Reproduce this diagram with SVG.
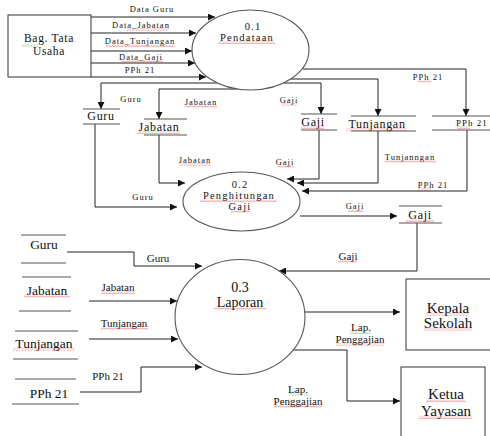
<svg xmlns="http://www.w3.org/2000/svg" width="490" height="436" viewBox="0 0 490 436" font-family="'Liberation Serif', 'DejaVu Serif', serif">
  <style>
    text { font-family: 'Liberation Serif', 'DejaVu Serif', serif; fill: #111; text-anchor: middle; }
    .flow { fill: none; stroke: #222; stroke-width: 1; marker-end: url(#arrow); }
    .store { stroke: #555; stroke-width: 1.2; }
    .shape { fill: #fff; stroke: #333; stroke-width: 1; }
    .proc { fill: #fff; stroke: #555; stroke-width: 1.1; }
    .lbl-s { font-size: 8.5px; letter-spacing: 1px; }
    .lbl-m { font-size: 11px; }
    .st-s { font-size: 12px; letter-spacing: 0.7px; }
    .st-l { font-size: 13.5px; }
    .p-s { font-size: 10.5px; letter-spacing: 1.2px; }
    .p-l { font-size: 14px; }
    .ent { font-size: 15px; }
    .sq-r { fill: url(#wavyRed); }
    .sq-g { fill: url(#wavyGreen); }
  </style>
  <defs>
    <marker id="arrow" markerUnits="userSpaceOnUse" markerWidth="8" markerHeight="7" refX="7" refY="3.5" orient="auto">
      <path d="M0,0 L7,3.5 L0,7 z" fill="#111"/>
    </marker>
    <pattern id="wavyRed" patternUnits="userSpaceOnUse" width="3" height="2.5">
      <path d="M0,2 L1.5,0.5 L3,2" fill="none" stroke="#e03030" stroke-width="0.6"/>
    </pattern>
    <pattern id="wavyGreen" patternUnits="userSpaceOnUse" width="3" height="2.5">
      <path d="M0,2 L1.5,0.5 L3,2" fill="none" stroke="#3a9a3a" stroke-width="0.6"/>
    </pattern>
  </defs>

  <!-- connectors -->
  <g id="connectors">
    <!-- Bag. Tata Usaha to 0.1 -->
    <path class="flow" d="M91,17 H215"/>
    <path class="flow" d="M91,33 H196"/>
    <path class="flow" d="M91,51 H192"/>
    <path class="flow" d="M91,63 H195"/>
    <path class="flow" d="M91,77 H206"/>
    <!-- 0.1 to stores -->
    <path class="flow" d="M217,83 H101 V109"/>
    <path class="flow" d="M237,89 H159 V119"/>
    <path class="flow" d="M284,83 H321 V114"/>
    <path class="flow" d="M291,79 H378 V116"/>
    <path class="flow" d="M303,69 H466 V116"/>
    <!-- stores to 0.2 -->
    <path class="flow" d="M95,124 V207 H177"/>
    <path class="flow" d="M159,135 V183 H185"/>
    <path class="flow" d="M319,130 V179 H287"/>
    <path class="flow" d="M378,131 V183 H297"/>
    <path class="flow" d="M467,130 V191 H302"/>
    <path class="flow" d="M300,216 H397"/>
    <!-- to 0.3 -->
    <path class="flow" d="M417,223 V271 H279"/>
    <path class="flow" d="M67,252 H134 V266 H202"/>
    <path class="flow" d="M89,301 H177"/>
    <path class="flow" d="M89,339 H178"/>
    <path class="flow" d="M80,392 H141 V367 H202"/>
    <!-- 0.3 outputs -->
    <path class="flow" d="M303,312 H400"/>
    <path class="flow" d="M293,350 H347 V401 H400"/>

    <!-- labels -->
    <text class="lbl-s" x="152" y="12">Data Guru</text>
    <text class="lbl-s" x="141" y="28">Data_Jabatan</text>
    <text class="lbl-s" x="140" y="44">Data_Tunjangan</text>
    <text class="lbl-s" x="141" y="60">Data_Gaji</text>
    <text class="lbl-s" x="140" y="73">PPh 21</text>
    <text class="lbl-s" x="131" y="102">Guru</text>
    <text class="lbl-s" x="201" y="105">Jabatan</text>
    <text class="lbl-s" x="289" y="103">Gaji</text>
    <text class="lbl-s" x="428" y="80">PPh 21</text>
    <text class="lbl-s" x="143" y="200">Guru</text>
    <text class="lbl-s" x="195" y="163">Jabatan</text>
    <text class="lbl-s" x="285" y="165">Gaji</text>
    <text class="lbl-s" x="410" y="160">Tunjanngan</text>
    <text class="lbl-s" x="433" y="188">PPh 21</text>
    <text class="lbl-s" x="355" y="209">Gaji</text>
    <text class="lbl-m" x="348" y="260">Gaji</text>
    <text class="lbl-m" x="158" y="262">Guru</text>
    <text class="lbl-m" x="118" y="291">Jabatan</text>
    <text class="lbl-m" x="124" y="327">Tunjangan</text>
    <text class="lbl-m" x="108" y="380">PPh 21</text>
    <text class="lbl-m" x="361" y="331">Lap.</text>
    <text class="lbl-m" x="360" y="343">Penggajian</text>
    <text class="lbl-m" x="298" y="393">Lap.</text>
    <text class="lbl-m" x="298" y="405">Penggajian</text>
  </g>

  <!-- external entities -->
  <g id="bag-tata-usaha">
    <rect class="shape" x="8" y="15" width="83" height="62"/>
    <text class="st-s" x="49" y="42" style="font-size:11.5px">Bag. Tata</text>
    <text class="st-s" x="49" y="55" style="font-size:11.5px">Usaha</text>
  </g>
  <g id="kepala-sekolah">
    <rect class="shape" x="406" y="279" width="90" height="71"/>
    <text class="ent" x="448" y="313">Kepala</text>
    <text class="ent" x="448" y="328">Sekolah</text>
  </g>
  <g id="ketua-yayasan">
    <rect class="shape" x="401" y="367" width="84" height="80"/>
    <text class="ent" x="446" y="399">Ketua</text>
    <text class="ent" x="446" y="416">Yayasan</text>
  </g>

  <!-- processes -->
  <g id="p01">
    <ellipse class="proc" cx="250.5" cy="50" rx="58.5" ry="40"/>
    <text class="p-s" x="253" y="30">0.1</text>
    <text class="p-s" x="247" y="41">Pendataan</text>
  </g>
  <g id="p02">
    <ellipse class="proc" cx="241.5" cy="201.5" rx="58.5" ry="29.5"/>
    <text class="p-s" x="240" y="188">0.2</text>
    <text class="p-s" x="239" y="199">Penghitungan</text>
    <text class="p-s" x="240" y="210">Gaji</text>
  </g>
  <g id="p03">
    <ellipse class="proc" cx="240" cy="317" rx="65" ry="57.5"/>
    <text class="p-l" x="240" y="292">0.3</text>
    <text class="p-l" x="240" y="307">Laporan</text>
  </g>

  <!-- data stores, upper level -->
  <g id="ds-guru-1">
    <path class="store" d="M83,109 H120 M83,124 H120"/>
    <text class="st-s" x="101" y="120">Guru</text>
  </g>
  <g id="ds-jabatan-1">
    <path class="store" d="M144,119 H187 M144,135 H187"/>
    <text class="st-s" x="159" y="131">Jabatan</text>
  </g>
  <g id="ds-gaji-1">
    <path class="store" d="M301,114 H337 M301,130 H337"/>
    <text class="st-s" x="313" y="126">Gaji</text>
  </g>
  <g id="ds-tunjangan-1">
    <path class="store" d="M351,116 H416 M351,131 H416"/>
    <text class="st-s" x="377" y="128">Tunjangan</text>
  </g>
  <g id="ds-pph21-1">
    <path class="store" d="M432,116 H490 M432,130 H490"/>
    <text class="lbl-s" x="472" y="126" style="font-size:9px">PPh 21</text>
  </g>
  <g id="ds-gaji-2">
    <path class="store" d="M399,206 H442 M399,223 H442"/>
    <text class="st-s" x="420" y="219">Gaji</text>
  </g>

  <!-- data stores, lower level -->
  <g id="ds-guru-3">
    <path class="store" d="M21,235 H66 M21,263 H66"/>
    <text class="st-l" x="44" y="249">Guru</text>
  </g>
  <g id="ds-jabatan-3">
    <path class="store" d="M22,277 H71 M19,311 H71"/>
    <text class="st-l" x="47" y="295">Jabatan</text>
  </g>
  <g id="ds-tunjangan-3">
    <path class="store" d="M15,331 H78 M13,359 H78"/>
    <text class="st-l" x="44" y="348">Tunjangan</text>
  </g>
  <g id="ds-pph21-3">
    <path class="store" d="M15,379 H76 M12,404 H79"/>
    <text class="st-l" x="49" y="398">PPh 21</text>
  </g>

  <!-- proofing underlines -->
  <g id="proofing">
    <rect class="sq-g" x="22" y="44" width="16" height="2.5"/>
    <rect class="sq-r" x="127" y="28.5" width="42" height="2.5"/>
    <rect class="sq-r" x="106" y="44.5" width="69" height="2.5"/>
    <rect class="sq-r" x="121" y="60.5" width="42" height="2.5"/>
    <rect class="sq-r" x="185" y="105.5" width="32" height="2.5"/>
    <rect class="sq-r" x="281" y="103.5" width="16" height="2.5"/>
    <rect class="sq-r" x="218" y="41.5" width="57" height="2.5"/>
    <rect class="sq-r" x="418" y="80.5" width="13" height="2.5"/>
    <rect class="sq-r" x="137" y="131.5" width="43" height="2.5"/>
    <rect class="sq-r" x="301" y="126.5" width="23" height="2.5"/>
    <rect class="sq-r" x="346" y="128.5" width="61" height="2.5"/>
    <rect class="sq-r" x="457" y="126.5" width="13" height="2.5"/>
    <rect class="sq-r" x="179" y="163.5" width="32" height="2.5"/>
    <rect class="sq-r" x="278" y="165.5" width="16" height="2.5"/>
    <rect class="sq-r" x="385" y="160.5" width="51" height="2.5"/>
    <rect class="sq-r" x="418" y="188.5" width="13" height="2.5"/>
    <rect class="sq-r" x="200" y="199.5" width="77" height="2.5"/>
    <rect class="sq-r" x="231" y="210.5" width="19" height="2.5"/>
    <rect class="sq-r" x="348" y="209.5" width="15" height="2.5"/>
    <rect class="sq-r" x="406" y="219.5" width="28" height="2.5"/>
    <rect class="sq-r" x="338" y="260.5" width="19" height="2.5"/>
    <rect class="sq-r" x="24" y="295.5" width="46" height="2.5"/>
    <rect class="sq-r" x="101" y="291.5" width="34" height="2.5"/>
    <rect class="sq-r" x="101" y="327.5" width="47" height="2.5"/>
    <rect class="sq-r" x="13" y="348.5" width="62" height="2.5"/>
    <rect class="sq-r" x="214" y="307.5" width="52" height="2.5"/>
    <rect class="sq-r" x="426" y="313.5" width="43" height="2.5"/>
    <rect class="sq-r" x="424" y="328.5" width="48" height="2.5"/>
    <rect class="sq-g" x="350" y="331.5" width="21" height="2.5"/>
    <rect class="sq-r" x="336" y="343.5" width="48" height="2.5"/>
    <rect class="sq-r" x="426" y="399.5" width="40" height="2.5"/>
    <rect class="sq-r" x="419" y="416.5" width="53" height="2.5"/>
    <rect class="sq-g" x="288" y="393.5" width="21" height="2.5"/>
    <rect class="sq-r" x="274" y="405.5" width="48" height="2.5"/>
  </g>
</svg>
